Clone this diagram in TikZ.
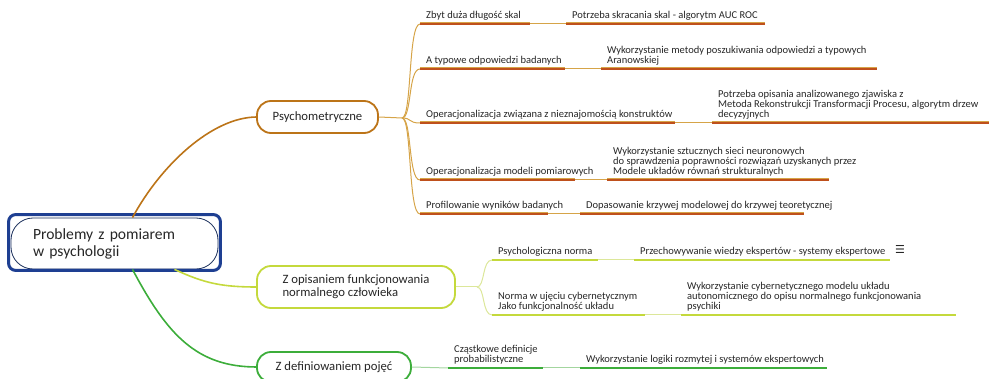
\documentclass[tikz,border=0pt]{standalone}
\usepackage{fontspec}
\setmainfont{Carlito}
\newfontfamily\iconfont{DejaVu Sans}
\usepackage{xcolor}
\usetikzlibrary{positioning, calc}

\definecolor{rootblue}{HTML}{1E3F92}
\definecolor{rootnavy}{HTML}{1B2F5C}
\definecolor{psybrown}{HTML}{BC7418}
\definecolor{psyred}{HTML}{BF501C}
\definecolor{psygold}{HTML}{D6A448}
\definecolor{normlime}{HTML}{C4D93C}
\definecolor{normpale}{HTML}{DCE79A}
\definecolor{defgreen}{HTML}{3CAD3A}
\definecolor{defpale}{HTML}{A3D69F}
\definecolor{textgray}{HTML}{262626}

\tikzset{
    rootnode/.style={draw=rootnavy, line width=0.8pt, rounded corners=22pt,
        minimum width=207pt, minimum height=51pt, text width=163pt, inner xsep=22pt,
        align=left, text=textgray, font=\fontsize{15.6}{17}\selectfont},
    rootframe/.style={draw=rootblue, line width=3pt, rounded corners=7pt},
    topicnode/.style={rounded corners=14pt, line width=1.8pt, fill=white,
        align=left, text=textgray, font=\fontsize{12.7}{12.7}\selectfont},
    leafnode/.style={anchor=south west, inner xsep=6pt, inner ysep=2.7pt,
        align=left, text=textgray, font=\fontsize{10.5}{9.9}\selectfont,
        execute at end node=\strut},
    psyline/.style={draw=psyred, line width=2pt, preaction={draw=psygold, line width=3pt}},
    psythin/.style={draw=psygold, line width=1pt},
    normline/.style={draw=normlime, line width=2.6pt},
    normthin/.style={draw=normpale, line width=1pt},
    defline/.style={draw=defgreen, line width=2.6pt},
    defthin/.style={draw=defpale, line width=1pt}
}

\begin{document}
\begin{tikzpicture}[x=1pt, y=-1pt]
    \useasboundingbox (0,0) rectangle (989,379);

    % main topic
    \node[rootnode] (root) at (114.5,243.5) {Problemy z pomiarem\\w psychologii};
    \draw[rootframe] ([shift={(-2,-3)}]root.north west) rectangle ([shift={(2,1)}]root.south east);

    % branches from the main topic
    \draw[draw=psybrown, line width=1.6pt] ([xshift=18pt]root.north) .. controls +(28,-52) and +(-45,0) .. (257,117);
    \draw[draw=normlime, line width=1.6pt] ([xshift=60pt]root.south) .. controls +(30,14) and +(-35,0) .. (257,287);
    \draw[draw=defgreen, line width=1.6pt] ([xshift=18pt]root.south) .. controls +(35,66) and +(-60,0) .. (257,367);

    \node[topicnode, draw=psybrown, minimum width=121pt, minimum height=32pt] (psy) at (317.5,117) {Psychometryczne};
    \node[topicnode, draw=normlime, minimum width=198pt, minimum height=42pt] (norm) at (356,287) {Z opisaniem funkcjonowania\\normalnego człowieka};
    \node[topicnode, draw=defgreen, minimum width=154pt, minimum height=30pt] (defn) at (334,367) {Z definiowaniem pojęć};

    % Psychometryczne
    \coordinate (psysplit) at (402,118);
    \draw[psythin] (psy.east) -- (psysplit);

    \node[leafnode] (p1) at (420,24) {Zbyt duża długość skal};
    \node[leafnode] (p1b) at (566,24) {Potrzeba skracania skal - algorytm AUC ROC};
    \node[leafnode] (p2) at (420,69) {A typowe odpowiedzi badanych};
    \node[leafnode] (p2b) at (601,69) {Wykorzystanie metody poszukiwania odpowiedzi a typowych\\Aranowskiej};
    \node[leafnode] (p3) at (420,123) {Operacjonalizacja związana z nieznajomością konstruktów};
    \node[leafnode] (p3b) at (712,123) {Potrzeba opisania analizowanego zjawiska z\\Metoda Rekonstrukcji Transformacji Procesu, algorytm drzew\\decyzyjnych};
    \node[leafnode] (p4) at (420,180) {Operacjonalizacja modeli pomiarowych};
    \node[leafnode] (p4b) at (607,180) {Wykorzystanie sztucznych sieci neuronowych\\do sprawdzenia poprawności rozwiązań uzyskanych przez\\Modele układów równań strukturalnych};
    \node[leafnode] (p5) at (420,214) {Profilowanie wyników badanych};
    \node[leafnode] (p5b) at (580,214) {Dopasowanie krzywej modelowej do krzywej teoretycznej};

    \draw[psythin] (psysplit) .. controls +(10,0) and +(-12,0) .. (p1.south west);
    \draw[psythin] (psysplit) .. controls +(10,0) and +(-12,0) .. (p2.south west);
    \draw[psythin] (psysplit) .. controls +(10,0) and +(-12,0) .. (p3.south west);
    \draw[psythin] (psysplit) .. controls +(10,0) and +(-12,0) .. (p4.south west);
    \draw[psythin] (psysplit) .. controls +(10,0) and +(-12,0) .. (p5.south west);

    \draw[psythin] (p1.south west) -- (p1b.south west);
    \draw[psythin] (p2.south west) -- (p2b.south west);
    \draw[psythin] (p3.south west) -- (p3b.south west);
    \draw[psythin] (p4.south west) -- (p4b.south west);
    \draw[psythin] (p5.south west) -- (p5b.south west);

    \draw[psyline] (p1.south west) -- +(110,0);
    \draw[psyline] (p1b.south west) -- +(199,0);
    \draw[psyline] (p2.south west) -- +(145,0);
    \draw[psyline] (p2b.south west) -- +(276,0);
    \draw[psyline] (p3.south west) -- +(255,0);
    \draw[psyline] (p3b.south west) -- +(277,0);
    \draw[psyline] (p4.south west) -- +(155,0);
    \draw[psyline] (p4b.south west) -- +(222,0);
    \draw[psyline] (p5.south west) -- +(128,0);
    \draw[psyline] (p5b.south west) -- +(224,0);

    % Z opisaniem funkcjonowania
    \coordinate (normsplit) at (477,287);
    \draw[normthin] (norm.east) -- (normsplit);

    \node[leafnode] (n1) at (492,260) {Psychologiczna norma};
    \node[leafnode] (n1b) at (634,260) {Przechowywanie wiedzy ekspertów - systemy ekspertowe};
    \node[font=\iconfont\fontsize{11}{11}\selectfont, text=textgray, inner sep=0pt] (note) at (900,249.5) {☰};
    \node[leafnode] (n2) at (492,315) {Norma w ujęciu cybernetycznym\\Jako funkcjonalność układu};
    \node[leafnode] (n2b) at (681,315) {Wykorzystanie cybernetycznego modelu układu\\autonomicznego do opisu normalnego funkcjonowania\\psychiki};

    \draw[normthin] (normsplit) .. controls +(8,0) and +(-10,0) .. (n1.south west);
    \draw[normthin] (normsplit) .. controls +(8,0) and +(-10,0) .. (n2.south west);
    \draw[normthin] (n1.south west) -- (n1b.south west);
    \draw[normthin] (n2.south west) -- (n2b.south west);

    \draw[normline] (n1.south west) -- +(106,0);
    \draw[normline] (n1b.south west) -- +(256,0);
    \draw[normline] (n2.south west) -- +(153,0);
    \draw[normline] (n2b.south west) -- +(275,0);

    % Z definiowaniem pojec
    \node[leafnode] (d1) at (448,368) {Cząstkowe definicje\\probabilistyczne};
    \node[leafnode] (d1b) at (580,368) {Wykorzystanie logiki rozmytej i systemów ekspertowych};

    \draw[defthin] (defn.east) -- (d1.south west);
    \draw[defthin] (d1.south west) -- (d1b.south west);
    \draw[defline] (d1.south west) -- +(95,0);
    \draw[defline] (d1b.south west) -- +(247,0);

\end{tikzpicture}
\end{document}
